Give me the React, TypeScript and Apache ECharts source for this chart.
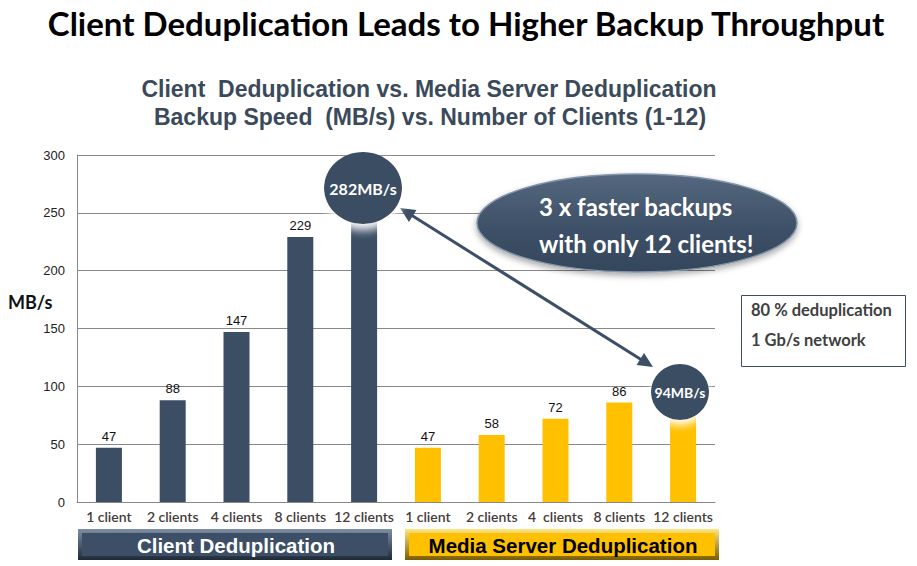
import React, { useEffect, useRef } from "react";
import * as echarts from "echarts";

const categories = [
  "1 client", "2 clients", "4 clients", "8 clients", "12 clients",
  "1 client", "2 clients", "4  clients", "8 clients", "12 clients",
];
const clientDedup = [47, 88, 147, 229, 282];
const mediaDedup = [47, 58, 72, 86, 94];
const yTicks = { min: 0, max: 300, interval: 50 };

const DARK = "#3b4e64";
const YELLOW = "#ffc000";

function arrowHead(tipX: number, tipY: number, fromX: number, fromY: number, len: number, half: number) {
  const dx = tipX - fromX, dy = tipY - fromY;
  const d = Math.sqrt(dx * dx + dy * dy);
  const ux = dx / d, uy = dy / d;
  const bx = tipX - ux * len, by = tipY - uy * len;
  return [[tipX, tipY], [bx - uy * half, by + ux * half], [bx + uy * half, by - ux * half]];
}

export default function App() {
  const ref = useRef<HTMLDivElement>(null);
  useEffect(() => {
    if (!ref.current) return;
    const chart = echarts.init(ref.current, null, { renderer: "svg" });
    const n = clientDedup.length;
    const clientData = categories.map((_, i) =>
      i < n ? { value: clientDedup[i], label: { show: i < n - 1 } } : { value: null }
    );
    const mediaData = categories.map((_, i) =>
      i >= n ? { value: mediaDedup[i - n], label: { show: i < 2 * n - 1 } } : { value: null }
    );
    const a1 = [400, 208], a2 = [653, 367];
    const valueLabel = { show: true, position: "top", distance: 5, color: "#111", fontFamily: "Liberation Sans", fontSize: 13 };
    const option: any = {
      animation: false,
      backgroundColor: "#ffffff",
      grid: { left: 77, right: 202, top: 155, bottom: 64, containLabel: false },
      xAxis: {
        type: "category",
        data: categories,
        axisTick: { show: false },
        axisLine: { lineStyle: { color: "#888888", width: 1 } },
        axisLabel: {
          interval: 0, hideOverlap: false, margin: 7,
          color: "#453c3c", fontFamily: "Lato", fontSize: 14, fontWeight: 600,
        },
      },
      yAxis: {
        type: "value",
        min: yTicks.min, max: yTicks.max, interval: yTicks.interval,
        axisLine: { show: true, lineStyle: { color: "#888888" } },
        axisTick: { show: false },
        splitLine: { lineStyle: { color: "#888888", width: 1 } },
        axisLabel: { color: "#222", fontFamily: "Liberation Sans", fontSize: 13, margin: 12 },
      },
      series: [
        {
          type: "bar", data: clientData, barWidth: 26, barGap: "-100%",
          itemStyle: { color: DARK },
          label: valueLabel,
        },
        {
          type: "bar", data: mediaData, barWidth: 26,
          itemStyle: { color: YELLOW },
          label: valueLabel,
        },
      ],
      graphic: [
        {
          type: "text", x: 466, y: 23,
          style: {
            text: "Client Deduplication Leads to Higher Backup Throughput",
            fill: "#000", font: "bold 33px Lato", align: "center", verticalAlign: "middle",
          },
        },
        {
          type: "text", x: 429, y: 89,
          style: {
            text: "Client  Deduplication vs. Media Server Deduplication",
            fill: "#3b4a5b", font: "bold 23px 'Liberation Sans'", align: "center", verticalAlign: "middle",
          },
        },
        {
          type: "text", x: 430, y: 117,
          style: {
            text: "Backup Speed  (MB/s) vs. Number of Clients (1-12)",
            fill: "#3b4a5b", font: "bold 23px 'Liberation Sans'", align: "center", verticalAlign: "middle",
          },
        },
        {
          type: "text", x: 8, y: 302,
          style: { text: "MB/s", fill: "#111", font: "bold 18px Lato", verticalAlign: "middle" },
        },
        // arrow
        {
          type: "line", z: 20,
          shape: { x1: a1[0] + 10, y1: a1[1] + 6.3, x2: a2[0] - 10, y2: a2[1] - 6.3 },
          style: { stroke: "#3d4f66", lineWidth: 3 },
        },
        {
          type: "polygon", z: 20,
          shape: { points: arrowHead(a1[0], a1[1], a2[0], a2[1], 15, 7) },
          style: { fill: "#3d4f66" },
        },
        {
          type: "polygon", z: 20,
          shape: { points: arrowHead(a2[0], a2[1], a1[0], a1[1], 15, 7) },
          style: { fill: "#3d4f66" },
        },
        // circle 282
        {
          type: "ellipse", z: 30,
          shape: { cx: 363, cy: 188, rx: 39, ry: 36 },
          style: {
            fill: "#3b4e64", shadowColor: "rgba(255,255,255,1)", shadowBlur: 10, shadowOffsetY: 6,
          },
        },
        {
          type: "text", z: 31, x: 363, y: 188,
          style: { text: "282MB/s", fill: "#fff", font: "bold 16px Lato", align: "center", verticalAlign: "middle" },
        },
        // circle 94
        {
          type: "ellipse", z: 30,
          shape: { cx: 680, cy: 392, rx: 29, ry: 28 },
          style: {
            fill: "#3b4e64", shadowColor: "rgba(255,255,255,1)", shadowBlur: 8, shadowOffsetY: 5,
          },
        },
        {
          type: "text", z: 31, x: 680, y: 392,
          style: { text: "94MB/s", fill: "#fff", font: "bold 14px Lato", align: "center", verticalAlign: "middle" },
        },
        // big ellipse
        {
          type: "ellipse", z: 25,
          shape: { cx: 637, cy: 223, rx: 160, ry: 49 },
          style: {
            fill: new echarts.graphic.LinearGradient(0, 0, 0, 1, [
              { offset: 0, color: "#55687f" },
              { offset: 0.5, color: "#3f5269" },
              { offset: 1, color: "#34465b" },
            ]),
            stroke: "#8294aa", lineWidth: 1.5,
            shadowColor: "rgba(0,0,0,0.35)", shadowBlur: 6, shadowOffsetY: 3,
          },
        },
        {
          type: "text", z: 26, x: 539, y: 206,
          style: { text: "3 x faster backups", fill: "#fff", font: "bold 24px Lato", verticalAlign: "middle" },
        },
        {
          type: "text", z: 26, x: 539, y: 243,
          style: { text: "with only 12 clients!", fill: "#fff", font: "bold 24px Lato", verticalAlign: "middle" },
        },
        // info box
        {
          type: "rect", z: 10,
          shape: { x: 741.5, y: 295.5, width: 164, height: 71 },
          style: { fill: "#fff", stroke: "#3d4f66", lineWidth: 1 },
        },
        {
          type: "text", z: 11, x: 751, y: 310,
          style: { text: "80 % deduplication", fill: "#404040", font: "bold 16.5px Lato", verticalAlign: "middle" },
        },
        {
          type: "text", z: 11, x: 751, y: 340,
          style: { text: "1 Gb/s network", fill: "#404040", font: "bold 16.5px Lato", verticalAlign: "middle" },
        },
        // bottom bars
        {
          type: "rect", z: 10,
          shape: { x: 78, y: 529, width: 314, height: 31 },
          style: {
            fill: new echarts.graphic.LinearGradient(0, 0, 0, 1, [
              { offset: 0, color: "#7d8ea3" },
              { offset: 1, color: "#1f2a38" },
            ]),
          },
        },
        {
          type: "rect", z: 11,
          shape: { x: 82, y: 533, width: 306, height: 23 },
          style: { fill: "#3d4f66" },
        },
        {
          type: "text", z: 12, x: 236, y: 545,
          style: { text: "Client Deduplication", fill: "#fff", font: "bold 20.5px 'Liberation Sans'", align: "center", verticalAlign: "middle" },
        },
        {
          type: "rect", z: 10,
          shape: { x: 405, y: 529, width: 314, height: 31 },
          style: {
            fill: new echarts.graphic.LinearGradient(0, 0, 0, 1, [
              { offset: 0, color: "#ffe680" },
              { offset: 1, color: "#7a5c00" },
            ]),
          },
        },
        {
          type: "rect", z: 11,
          shape: { x: 409, y: 533, width: 306, height: 23 },
          style: { fill: YELLOW },
        },
        {
          type: "text", z: 12, x: 563, y: 545,
          style: { text: "Media Server Deduplication", fill: "#000", font: "bold 20.5px 'Liberation Sans'", align: "center", verticalAlign: "middle" },
        },
      ],
    };
    chart.setOption(option);
    return () => chart.dispose();
  }, []);
  return (
    <div
      ref={ref}
      style={{ position: "absolute", left: 0, top: 0, width: 917, height: 566 }}
    />
  );
}
